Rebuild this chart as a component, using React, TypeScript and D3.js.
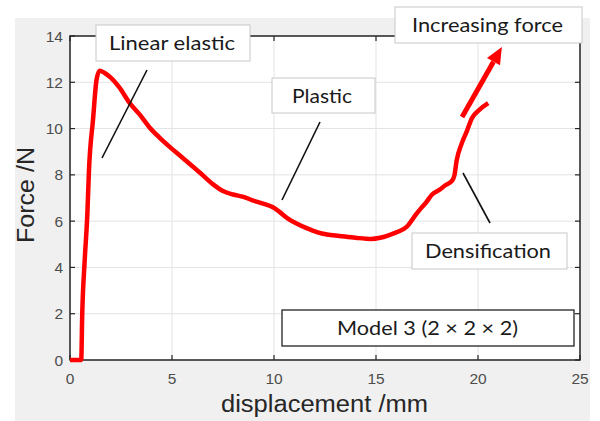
import React from "react";
import * as d3 from "d3";

const displacement = [0, 0.3, 0.55, 0.6, 0.72, 0.85, 0.93, 1.13, 1.3, 1.45, 1.7, 2.0, 2.4, 2.93, 3.42, 3.9, 4.4, 4.9, 5.5, 6.36, 7.0, 7.5, 8.0, 8.5, 8.95, 9.5, 9.95, 10.27, 10.7, 11.1, 11.6, 12.1, 12.6, 13.2, 14.0, 14.77, 15.2, 15.65, 16.1, 16.5, 16.97, 17.2, 17.45, 17.75, 18.1, 18.4, 18.73, 18.85, 18.95, 19.2, 19.46, 19.7, 20.05, 20.5];
const force = [0, 0, 0, 2.0, 4.3, 6.3, 8.2, 10.4, 12.1, 12.5, 12.4, 12.2, 11.8, 11.1, 10.6, 10.05, 9.6, 9.2, 8.75, 8.1, 7.6, 7.3, 7.15, 7.05, 6.9, 6.75, 6.6, 6.4, 6.1, 5.9, 5.7, 5.53, 5.42, 5.36, 5.28, 5.23, 5.28, 5.4, 5.55, 5.75, 6.3, 6.55, 6.8, 7.15, 7.35, 7.55, 7.75, 8.0, 8.6, 9.35, 9.9, 10.45, 10.8, 11.1];
const xTicks = [0, 5, 10, 15, 20, 25];
const yTicks = [0, 2, 4, 6, 8, 10, 12, 14];
const xLabel = "displacement /mm";
const yLabel = "Force /N";
const arrowFrom = [19.22, 10.5];
const arrowTo = [21.17, 13.53];

const W = 600, H = 421;
const L = 70, R = 580, T = 36, B = 360;

export default function App() {
  const x = d3.scaleLinear().domain([0, 25]).range([L, R]);
  const y = d3.scaleLinear().domain([0, 14]).range([B, T]);
  const pts = displacement.map((d, i) => [d, force[i]] as [number, number]);
  const line = d3.line<[number, number]>().x(d => x(d[0])).y(d => y(d[1])).curve(d3.curveMonotoneX);

  const ax = x(arrowFrom[0]), ay = y(arrowFrom[1]);
  const bx = x(arrowTo[0]), by = y(arrowTo[1]);
  const ang = Math.atan2(by - ay, bx - ax);
  const headLen = 17, headW = 7.5;
  const hx = bx - headLen * Math.cos(ang), hy = by - headLen * Math.sin(ang);
  const px = -Math.sin(ang), py = Math.cos(ang);
  const head = `M${bx},${by}L${hx + px * headW},${hy + py * headW}L${hx - px * headW},${hy - py * headW}Z`;

  const axisColor = "#262626";
  const tickColor = "#4d4d4d";
  const font = "'Liberation Sans', Arial, sans-serif";
  const aFont = "Lato, 'Open Sans', sans-serif";

  const box = (x0: number, y0: number, x1: number, y1: number, stroke: string, sw: number) => (
    <rect x={x0} y={y0} width={x1 - x0} height={y1 - y0} fill="#fff" stroke={stroke} strokeWidth={sw} />
  );
  const label = (t: string, x0: number, x1: number, base: number, size: number) => (
    <text x={x0} y={base} fontFamily={aFont} fontSize={size} fill="#1a1a1a" textLength={x1 - x0} lengthAdjust="spacingAndGlyphs">{t}</text>
  );

  return (
    <svg width={W} height={H} style={{ position: "absolute", left: 0, top: 0, background: "#fff" }}>
      <rect x={15} y={18} width={575} height={403} fill="#f0f0f0" />
      <rect x={L} y={T} width={R - L} height={B - T} fill="#fff" />
      {xTicks.map(t => (
        <line key={"gx" + t} x1={x(t)} x2={x(t)} y1={T} y2={B} stroke="#e3e3e3" strokeWidth={1} />
      ))}
      {yTicks.map(t => (
        <line key={"gy" + t} x1={L} x2={R} y1={y(t)} y2={y(t)} stroke="#e3e3e3" strokeWidth={1} />
      ))}
      <rect x={L} y={T} width={R - L} height={B - T} fill="none" stroke={axisColor} strokeWidth={1.5} />
      {xTicks.map(t => (
        <g key={"tx" + t}>
          <line x1={x(t)} x2={x(t)} y1={B} y2={B - 5} stroke={axisColor} strokeWidth={1.2} />
          <line x1={x(t)} x2={x(t)} y1={T} y2={T + 5} stroke={axisColor} strokeWidth={1.2} />
          <text x={x(t)} y={384} textAnchor="middle" fontFamily={font} fontSize={15.5} fill={tickColor}>{t}</text>
        </g>
      ))}
      {yTicks.map(t => (
        <g key={"ty" + t}>
          <line x1={L} x2={L + 5} y1={y(t)} y2={y(t)} stroke={axisColor} strokeWidth={1.2} />
          <line x1={R} x2={R - 5} y1={y(t)} y2={y(t)} stroke={axisColor} strokeWidth={1.2} />
          <text x={63} y={y(t) + 5.5} textAnchor="end" fontFamily={font} fontSize={15.5} fill={tickColor}>{t}</text>
        </g>
      ))}
      <text x={221} y={412} fontFamily={font} fontSize={23} fill="#262626" textLength={207} lengthAdjust="spacingAndGlyphs">{xLabel}</text>
      <text transform="translate(34,243) rotate(-90)" fontFamily={font} fontSize={23} fill="#262626" textLength={96} lengthAdjust="spacingAndGlyphs">{yLabel}</text>

      <path d={line(pts) || ""} fill="none" stroke="#ff0000" strokeWidth={4.5} strokeLinejoin="round" />

      <line x1={ax} y1={ay} x2={hx} y2={hy} stroke="#ff0000" strokeWidth={5} />
      <path d={head} fill="#ff0000" />

      <line x1={147} y1={70} x2={102} y2={158} stroke="#111" strokeWidth={1.6} />
      <line x1={320} y1={122} x2={282} y2={200} stroke="#111" strokeWidth={1.6} />
      <line x1={463} y1={173} x2={490} y2={223} stroke="#111" strokeWidth={1.6} />

      {box(96, 25, 250, 61, "#c8c8c8", 1)}
      {label("Linear elastic", 109, 235, 50, 20)}
      {box(272, 78, 375, 113, "#c8c8c8", 1)}
      {label("Plastic", 292, 352, 103, 20)}
      {box(395, 7, 582, 43, "#c8c8c8", 1)}
      {label("Increasing force", 412, 563, 32, 20)}
      {box(412, 233, 567, 269, "#c8c8c8", 1)}
      {label("Densification", 425, 551, 258, 20)}
      {box(282, 310, 574, 346, "#222", 1.3)}
      {label("Model 3 (2 × 2 × 2)", 337, 518, 335, 20)}
    </svg>
  );
}
